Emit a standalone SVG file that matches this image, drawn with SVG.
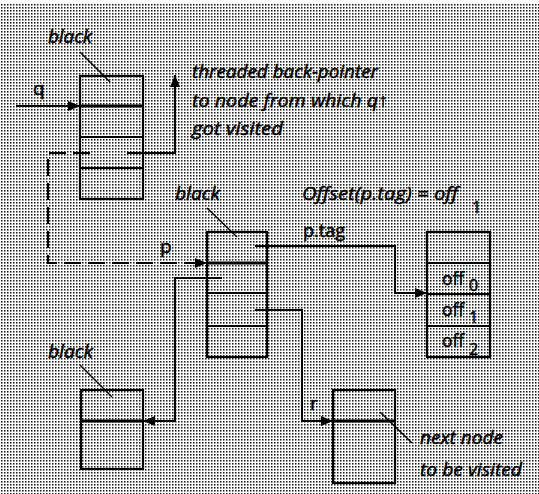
<svg xmlns="http://www.w3.org/2000/svg" width="539" height="494" viewBox="0 0 539 494">
<style>
.box{fill:none;stroke:#000;stroke-width:2.2}
.div{stroke:#000;stroke-width:2.2}
.thick{stroke:#000;stroke-width:3.2}
.con{fill:none;stroke:#000;stroke-width:2}
.dash{stroke-dasharray:17 7}
.lead{stroke:#000;stroke-width:1.4}
.it{font-family:"Open Sans","Liberation Sans","DejaVu Sans",sans-serif;font-style:italic;font-size:19px;fill:#000;stroke:#000;stroke-width:0.45}
.up{font-family:"Open Sans","Liberation Sans","DejaVu Sans",sans-serif;font-size:19px;fill:#000;stroke:#000;stroke-width:0.45}
.sub{font-family:"Open Sans","Liberation Sans","DejaVu Sans",sans-serif;font-size:16px;fill:#000;stroke:#000;stroke-width:0.4}
</style>
<defs>
<pattern id="dots" width="3" height="3" patternUnits="userSpaceOnUse">
<rect x="1" y="1" width="1.5" height="1.6" fill="#1e1e1e"/>
</pattern>
<marker id="ah" markerUnits="userSpaceOnUse" markerWidth="13" markerHeight="10" refX="12" refY="5" orient="auto">
<path d="M0,0 L12,5 L0,10 z" fill="#000"/>
</marker>
</defs>
<rect width="539" height="494" fill="#fff"/>
<rect x="0" y="3" width="539" height="491" fill="url(#dots)"/>

<g id="connectors">
<path class="con" d="M16,106 H80" marker-end="url(#ah)"/>
<path class="con" d="M127,153 H175 V75" marker-end="url(#ah)"/>
<path class="con dash" d="M90,153 H48 V263 H207" marker-end="url(#ah)"/>
<path class="con" d="M255,246 H395 V293 H427" marker-end="url(#ah)"/>
<path class="con" d="M222,278 H175 V421 H143" marker-end="url(#ah)"/>
<path class="con" d="M255,310 H302 V421 H333" marker-end="url(#ah)"/>
<text class="up" x="33" y="95">q</text>
<text class="up" x="160" y="253">p</text>
<text class="up" x="303" y="237" textLength="42" lengthAdjust="spacingAndGlyphs">p.tag</text>
<text class="up" x="310" y="410">r</text>
</g>

<g id="node-q">
<rect class="box" x="80" y="76" width="63" height="123"/>
<line class="thick" x1="80" y1="106" x2="143" y2="106"/>
<line class="div" x1="80" y1="137" x2="143" y2="137"/>
<line class="div" x1="80" y1="168" x2="143" y2="168"/>
<text class="it" x="48" y="43" textLength="44" lengthAdjust="spacingAndGlyphs">black</text>
<line class="lead" x1="80" y1="52" x2="110" y2="82"/>
</g>

<g id="note-threaded">
<text class="it" x="192" y="78" textLength="186" lengthAdjust="spacingAndGlyphs">threaded back-pointer</text>
<text class="it" x="192" y="107" textLength="196" lengthAdjust="spacingAndGlyphs">to node from which q↑</text>
<text class="it" x="192" y="135" textLength="91" lengthAdjust="spacingAndGlyphs">got visited</text>
</g>

<g id="node-p">
<rect class="box" x="207" y="232" width="60" height="125"/>
<line class="thick" x1="207" y1="263" x2="267" y2="263"/>
<line class="div" x1="207" y1="293" x2="267" y2="293"/>
<line class="div" x1="207" y1="326" x2="267" y2="326"/>
<text class="it" x="175" y="200" textLength="45" lengthAdjust="spacingAndGlyphs">black</text>
<line class="lead" x1="207" y1="208" x2="237" y2="237"/>
</g>

<g id="offset-table">
<text class="it" x="302" y="200" textLength="156" lengthAdjust="spacingAndGlyphs">Offset(p.tag) = off</text>
<text class="sub" x="472" y="213">1</text>
<rect class="box" x="427" y="232" width="63" height="125"/>
<line class="div" x1="427" y1="263" x2="490" y2="263"/>
<line class="div" x1="427" y1="294" x2="490" y2="294"/>
<line class="div" x1="427" y1="326" x2="490" y2="326"/>
<text class="up" x="442" y="285" textLength="22" lengthAdjust="spacingAndGlyphs">off</text>
<text class="sub" x="469" y="291">0</text>
<text class="up" x="442" y="316" textLength="22" lengthAdjust="spacingAndGlyphs">off</text>
<text class="sub" x="469" y="323">1</text>
<text class="up" x="442" y="347" textLength="22" lengthAdjust="spacingAndGlyphs">off</text>
<text class="sub" x="469" y="355">2</text>
</g>

<g id="node-left">
<rect class="box" x="81" y="390" width="62" height="79"/>
<line class="thick" x1="81" y1="421" x2="143" y2="421"/>
<text class="it" x="48" y="358" textLength="45" lengthAdjust="spacingAndGlyphs">black</text>
<line class="lead" x1="80" y1="365" x2="112" y2="397"/>
</g>

<g id="node-r">
<rect class="box" x="333" y="390" width="62" height="93"/>
<line class="thick" x1="333" y1="421" x2="395" y2="421"/>
<text class="it" x="420" y="444" textLength="83" lengthAdjust="spacingAndGlyphs">next node</text>
<text class="it" x="420" y="476" textLength="102" lengthAdjust="spacingAndGlyphs">to be visited</text>
<line class="lead" x1="380" y1="412" x2="412" y2="443"/>
</g>
</svg>
